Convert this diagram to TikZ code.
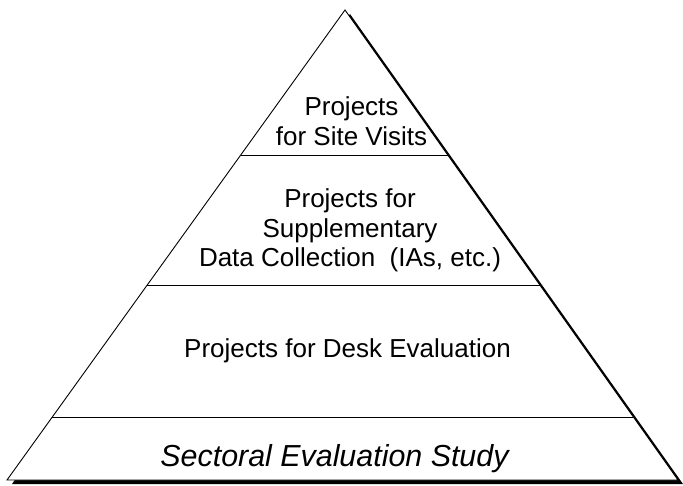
\documentclass[tikz,border=0pt]{standalone}
\usepackage{fontspec}
\setmainfont{Liberation Sans}
\usepackage{tikz}
\usetikzlibrary{calc}

\tikzset{
  tier/.style={align=center, inner sep=0pt, font=\fontsize{26}{29.5}\selectfont},
  baselabel/.style={inner sep=0pt, font=\fontsize{30.4}{36}\selectfont\itshape}
}

\begin{document}
\begin{tikzpicture}[x=1pt,y=-1pt]
    \useasboundingbox (0,0) rectangle (683,485);
    \coordinate (top) at (345,10);
    \coordinate (bl) at (7,480);
    \coordinate (br) at (678,480);
    % shadow
    \fill ($(top)+(5,4)$) -- ($(br)+(5,4)$) -- ($(bl)+(5,4)$) -- cycle;
    \draw[fill=white, line width=0.9pt] (top) -- (br) -- (bl) -- cycle;
    % tiers
    \draw[line width=0.8pt] ($(top)!0.3085!(bl)$) -- ($(top)!0.3085!(br)$);
    \draw[line width=0.8pt] ($(top)!0.586!(bl)$) -- ($(top)!0.586!(br)$);
    \draw[line width=0.8pt] ($(top)!0.866!(bl)$) -- ($(top)!0.866!(br)$);
    \node[tier] (site) at (351.5,121.2) {Projects\\for Site Visits};
    \node[tier] (supp) at (350,230.7) {Projects for\\Supplementary\\Data Collection\ \ (IAs, etc.)};
    \node[tier] (desk) at (347.5,351.2) {Projects for Desk Evaluation};
    \node[baselabel] (study) at (334.5,459.1) {Sectoral Evaluation Study};
  \end{tikzpicture}
\end{document}
